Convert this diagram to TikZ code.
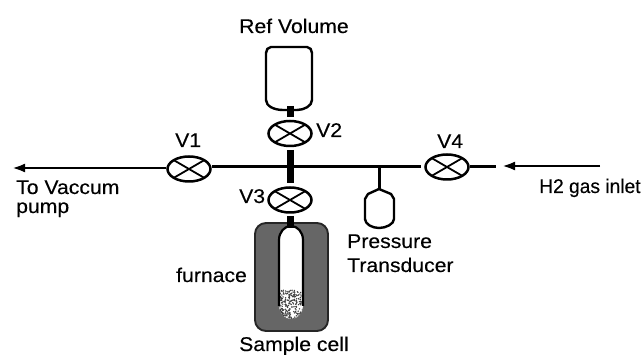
\documentclass[tikz,border=0pt]{standalone}
\usepackage{fontspec}
\setmainfont[FakeStretch=1.07,FakeBold=0.25]{Liberation Sans}
\newfontfamily\narrowlabel[FakeStretch=0.97,FakeBold=0.25]{Liberation Sans}
\usetikzlibrary{shapes.geometric,arrows.meta}
\tikzset{
  valve/.style={ellipse,draw=black,line width=2.5pt,minimum width=43pt,minimum height=25pt,inner sep=0pt,fill=white,
    path picture={\draw[line width=1.8pt] (path picture bounding box.north west)--(path picture bounding box.south east)
      (path picture bounding box.north east)--(path picture bounding box.south west);}},
  lbl/.style={anchor=base west,inner sep=0pt,font=\fontsize{19.8}{21}\selectfont,text=black},
  thinpipe/.style={line width=3pt,black},
  fatpipe/.style={line width=7pt,black},
  flow/.style={line width=2.7pt,black,-{Latex[length=13pt,width=9pt]}},
  vessel/.style={line width=2.4pt,draw=black,fill=white,line join=round}
}
\begin{document}
\begin{tikzpicture}[x=1pt,y=-1pt]
\useasboundingbox (0,0) rectangle (641,355);
\clip (0,0) rectangle (641,355);
% coordinates
\coordinate (lefttip) at (12,168);
\coordinate (righttail) at (600,166);
\coordinate (righttip) at (502,166);
\coordinate (v4stub) at (496,167);
\coordinate (junction) at (290,166);
\coordinate (tap) at (379,167);
% furnace and sample tube
\draw[line width=1.9pt,fill=black!60,draw=black!85,rounded corners=11pt] (255,223) rectangle (328,331);
\path[fill=white] (279,240) arc[start angle=180,end angle=360,x radius=12,y radius=14] -- (303,306) arc[start angle=0,end angle=180,x radius=12,y radius=13] -- cycle;
\begin{scope}
  \clip (279,290) rectangle (303,320);
  \clip (279,240) arc[start angle=180,end angle=360,x radius=12,y radius=14] -- (303,306) arc[start angle=0,end angle=180,x radius=12,y radius=13] -- cycle;
  \pgfmathsetseed{7}
  \foreach \i in {1,...,240}{
    \pgfmathsetmacro{\px}{279+24*rnd}
    \pgfmathsetmacro{\py}{290+30*rnd}
    \fill[black!75] (\px,\py) circle[radius=0.8];
  }
\end{scope}
\draw[line width=2.2pt,black] (279,306) -- (279,240) arc[start angle=180,end angle=360,x radius=12,y radius=14] -- (303,306);
% valves
\node[valve] (v1) at (189,169) {};
\node[valve] (v2) at (290,133.5) {};
\node[valve] (v3) at (290,200) {};
\node[valve] (v4) at (447,167) {};
% ref volume
\draw[vessel] (271,47) -- (307,47) .. controls (310,47) and (312,50) .. (312,53) -- (312,100) .. controls (312,106) and (304,110) .. (297,110) -- (283,110) .. controls (274,110) and (266,106) .. (266,100) -- (266,53) .. controls (266,50) and (268,47) .. (271,47) -- cycle;
\coordinate (refbottom) at (290,106);
% transducer
\draw[vessel] (379,189) -- (391,194) -- (394,199) -- (394,219) .. controls (394,224) and (386,228) .. (379,228) .. controls (372,228) and (365,224) .. (365,219) -- (365,199) -- (368,194) -- cycle;
\coordinate (transtop) at (379,189);
% pipes
\draw[fatpipe] (refbottom) -- (290,117);
\draw[fatpipe] (290,150) -- (290,183);
\draw[fatpipe] (290,216) -- (290,228);
\draw[thinpipe] (212,167) -- (421,167);
\draw[thinpipe] (tap) -- (transtop);
\draw[thinpipe] (v4.east) -- (v4stub);
\draw[flow] (v1.west |- lefttip) -- (lefttip);
\draw[flow] (righttail) -- (righttip);
% labels
\node[lbl] (tref) at (239,33) {Ref Volume};
\node[lbl] (tv2) at (316,137) {V2};
\node[lbl] (tv1) at (175,147) {V1};
\node[lbl] (tv3) at (239,203) {V3};
\node[lbl] (tv4) at (437,148) {V4};
\node[lbl] (tvac) at (16,194) {To Vaccum};
\node[lbl] (tpump) at (16,213) {pump};
\node[lbl] (th2) at (539,193) {\narrowlabel H2 gas inlet};
\node[lbl] (tpre) at (347,248) {Pressure};
\node[lbl] (ttra) at (347,272) {Transducer};
\node[lbl] (tfur) at (176,282) {furnace};
\node[lbl] (tsam) at (239,351) {Sample cell};
\end{tikzpicture}
\end{document}
